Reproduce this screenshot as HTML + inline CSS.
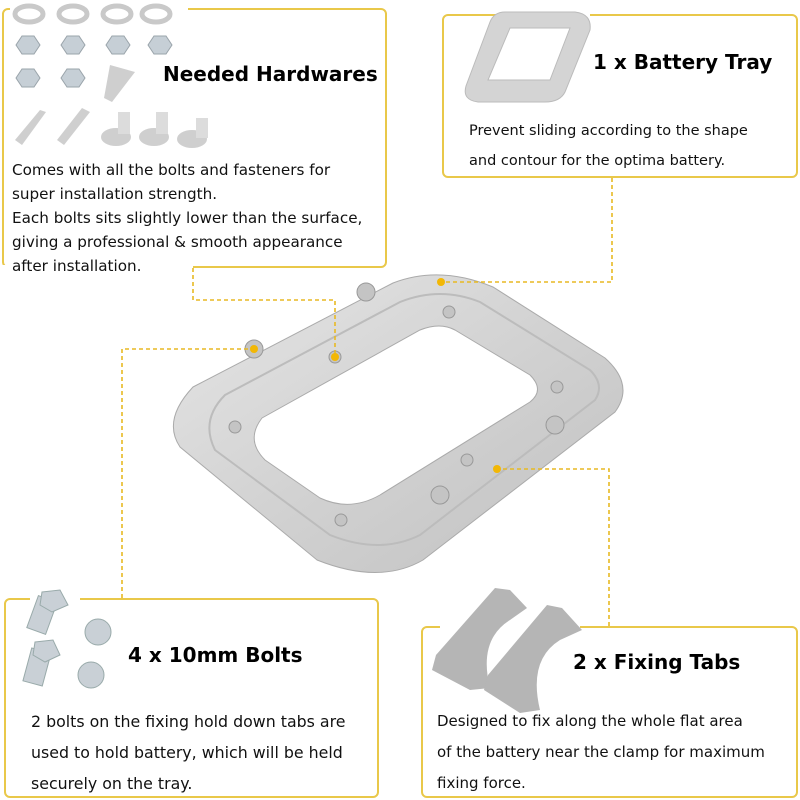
<!DOCTYPE html>
<html><head><meta charset="utf-8"><style>
body{margin:0;width:800px;height:800px;background:#fff;position:relative;overflow:hidden;font-family:"DejaVu Sans","Liberation Sans",sans-serif;}
.box{position:absolute;border:2px solid #e9c84a;border-radius:6px;box-sizing:border-box;}
.t{position:absolute;color:#111;font-size:14.5px;line-height:24px;white-space:nowrap;}
.h{position:absolute;font-weight:bold;font-size:20px;color:#000;white-space:nowrap;}
svg{position:absolute;left:0;top:0;}
</style></head><body>
<div class="box" style="left:2px;top:8px;width:385px;height:260px"></div>
<div class="box" style="left:442px;top:14px;width:356px;height:164px"></div>
<div class="box" style="left:4px;top:598px;width:375px;height:200px"></div>
<div class="box" style="left:421px;top:626px;width:377px;height:172px"></div>
<svg width="800" height="800">
<defs><linearGradient id="g" x1="0" y1="0" x2="1" y2="1"><stop offset="0" stop-color="#e6e6e6"/><stop offset="0.5" stop-color="#d2d2d2"/><stop offset="1" stop-color="#c0c0c0"/></linearGradient></defs>
<rect x="10" y="0" width="178" height="20" fill="#fff"/>
<rect x="497" y="5" width="93" height="20" fill="#fff"/>
<rect x="30" y="590" width="50" height="20" fill="#fff"/>
<rect x="440" y="618" width="140" height="20" fill="#fff"/>
<rect x="0" y="265" width="193" height="10" fill="#fff"/>
<g fill="none" stroke="#c9c9c9" stroke-width="5"><ellipse cx="29" cy="14" rx="14" ry="8"/><ellipse cx="73" cy="14" rx="14" ry="8"/><ellipse cx="117" cy="14" rx="14" ry="8"/><ellipse cx="156" cy="14" rx="14" ry="8"/></g>
<g fill="#c6cfd6" stroke="#9aa4ab"><polygon points="16,45 22,36 34,36 40,45 34,54 22,54"/><polygon points="61,45 67,36 79,36 85,45 79,54 67,54"/><polygon points="106,45 112,36 124,36 130,45 124,54 112,54"/><polygon points="148,45 154,36 166,36 172,45 166,54 154,54"/><polygon points="16,78 22,69 34,69 40,78 34,87 22,87"/><polygon points="61,78 67,69 79,69 85,78 79,87 67,87"/></g>
<g fill="#cfcfcf"><polygon points="110,65 135,72 112,102 104,98"/><polygon points="15,140 40,110 46,112 22,145"/><polygon points="57,140 82,108 90,112 64,145"/><ellipse cx="116" cy="137" rx="15" ry="9"/><ellipse cx="154" cy="137" rx="15" ry="9"/><ellipse cx="192" cy="139" rx="15" ry="9"/><rect x="118" y="112" width="12" height="22" fill="#dcdcdc"/><rect x="156" y="112" width="12" height="22" fill="#dcdcdc"/><rect x="196" y="118" width="12" height="20" fill="#dcdcdc"/></g>
<path d="M505,12 L575,12 Q592,14 590,30 L565,92 Q560,102 545,102 L478,102 Q462,100 466,86 L490,22 Q494,12 505,12Z M510,28 L570,28 L550,80 L488,80Z" fill="#d4d4d4" fill-rule="evenodd" stroke="#bbb"/>
<g fill="#c9d0d6" stroke="#9aa"><rect x="32" y="598" width="20" height="34" transform="rotate(20 42 615)"/><rect x="27" y="650" width="20" height="34" transform="rotate(15 37 667)"/><circle cx="98" cy="632" r="13"/><circle cx="91" cy="675" r="13"/><polygon points="42,592 60,590 68,605 52,612 40,605"/><polygon points="35,642 53,640 60,655 45,662 33,655"/></g>
<g fill="#b5b5b5"><path d="M495,588 L510,590 L527,608 L510,620 Q478,640 490,688 L470,690 L432,670 L436,655Z"/><path d="M547,605 L562,608 L582,630 L560,640 Q528,660 540,710 L520,713 L484,690 L488,675Z"/></g>
<path d="M193,387 L393,283 Q440,265 493,287 L605,358 Q635,385 615,412 L423,560 Q380,585 317,560 L180,447 Q162,420 193,387Z M262,418 L420,330 Q440,322 455,330 L530,375 Q545,390 530,402 L380,495 Q350,512 320,498 L265,460 Q245,440 262,418Z" fill="url(#g)" fill-rule="evenodd" stroke="#aaa"/>
<path d="M225,395 L400,302 Q440,286 480,302 L590,370 Q605,385 595,400 L420,535 Q380,555 330,535 L215,450 Q200,420 225,395Z" fill="none" stroke="#bcbcbc" stroke-width="2"/>
<g fill="#c4c4c4" stroke="#999"><circle cx="366" cy="292" r="9"/><circle cx="254" cy="349" r="9"/><circle cx="555" cy="425" r="9"/><circle cx="440" cy="495" r="9"/><circle cx="449" cy="312" r="6"/><circle cx="557" cy="387" r="6"/><circle cx="235" cy="427" r="6"/><circle cx="341" cy="520" r="6"/><circle cx="335" cy="357" r="6"/><circle cx="467" cy="460" r="6"/></g>
<g fill="none" stroke="#e8b923" stroke-width="1.6" stroke-dasharray="4,3"><polyline points="193,268 193,300 335,300 335,357"/><polyline points="122,598 122,349 254,349"/><polyline points="612,178 612,282 441,282"/><polyline points="609,626 609,469 497,469"/></g>
<g fill="#f2b705"><circle cx="335" cy="357" r="4"/><circle cx="254" cy="349" r="4"/><circle cx="441" cy="282" r="4"/><circle cx="497" cy="469" r="4"/></g>
</svg>
<div class="h" style="left:163px;top:62px">Needed Hardwares</div>
<div class="t" style="left:12px;top:158px;font-size:15.2px">Comes with all the bolts and fasteners for<br>super installation strength.<br>Each bolts sits slightly lower than the surface,<br>giving a professional &amp; smooth appearance<br>after installation.</div>
<div class="h" style="left:593px;top:50px">1 x Battery Tray</div>
<div class="t" style="left:469px;top:116px;line-height:30px">Prevent sliding according to the shape<br>and contour for the optima battery.</div>
<div class="h" style="left:128px;top:643px">4 x 10mm Bolts</div>
<div class="t" style="left:31px;top:706px;line-height:31px;font-size:15.8px">2 bolts on the fixing hold down tabs are<br>used to hold battery, which will be held<br>securely on the tray.</div>
<div class="h" style="left:573px;top:650px">2 x Fixing Tabs</div>
<div class="t" style="left:437px;top:706px;line-height:31px;font-size:15px">Designed to fix along the whole flat area<br>of the battery near the clamp for maximum<br>fixing force.</div>
</body></html>
